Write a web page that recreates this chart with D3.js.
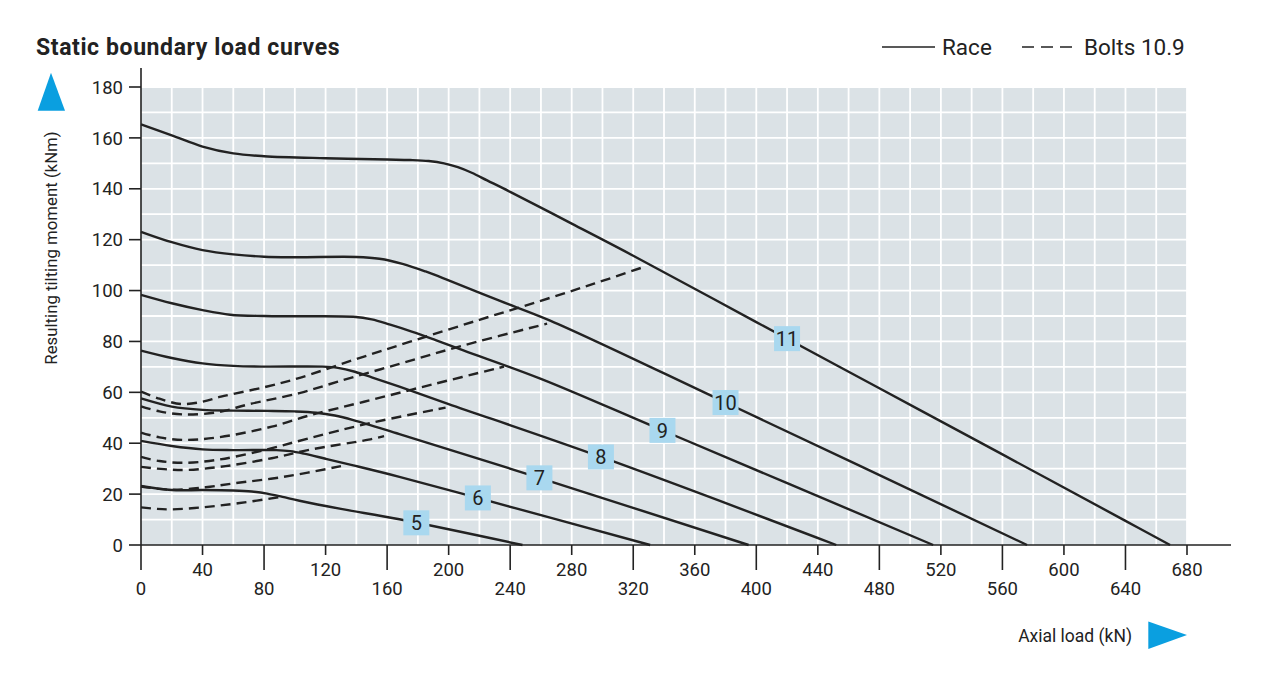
<!DOCTYPE html>
<html>
<head>
<meta charset="utf-8">
<script src="https://cdn.jsdelivr.net/npm/d3@7"></script>
<style>
  html, body { margin: 0; padding: 0; background: #ffffff; }
  svg { display: block; font-family: Roboto, "Noto Sans", sans-serif; }
</style>
</head>
<body>
<svg id="chart" width="1267" height="685"></svg>
<script>
// ---------- DATA ----------
const sizeLabels = ["5", "6", "7", "8", "9", "10", "11"];
const labelAtLoad = [179, 219, 259, 299, 339, 380, 420];

// Race curves: [axial load kN, tilting moment kNm]
const race5  = [[0,23.2],[20,21.6],[40,21.6],[60,21.4],[72,21.0],[82,20.2],[92,18.9],[103,17.4],[130,14.2],[168,10.1],[248,0]];
const race6  = [[0,40.9],[20,38.9],[40,37.6],[60,37.3],[88,37.3],[97,36.9],[106,35.9],[120,33.9],[138,31.3],[168,26.8],[219,18.5],[331,0]];
const race7  = [[0,57.6],[20,54.4],[40,53.1],[60,52.8],[82,52.7],[100,52.5],[114,52.0],[126,50.9],[138,49.1],[168,43.6],[260,26.2],[395,0]];
const race8  = [[0,76.4],[20,73.5],[40,71.4],[60,70.4],[80,70.1],[118,70.1],[128,69.6],[139,68.1],[150,65.9],[168,62.2],[200,55.4],[300,34.4],[452,0]];
const race9  = [[0,98.3],[20,95.0],[40,92.3],[58,90.5],[80,90.0],[100,89.9],[138,89.7],[150,88.7],[162,86.6],[176,83.9],[190,80.9],[210,76.4],[260,65.3],[340,44.8],[515,0]];
const race10 = [[0,123.1],[20,119.0],[40,115.9],[60,114.2],[80,113.3],[100,113.1],[140,113.2],[155,112.5],[170,110.5],[185,107.5],[200,104.0],[233,96.0],[266,88.2],[380,56.0],[576,0]];
const race11 = [[0,165.3],[20,161.0],[40,156.6],[60,153.9],[80,152.8],[120,152.0],[160,151.5],[175,151.3],[187,150.9],[197,150.0],[206,148.5],[215,146.3],[225,143.3],[240,138.8],[280,126.3],[320,113.7],[400,87.6],[480,61.6],[560,35.6],[640,9.5],[669,0]];

// Bolt curves (dashed)
const boltsA = [[0,60.3],[12,57.5],[26,55.4],[40,56.3],[52,58.3],[80,62.0],[102,65.5],[138,72.7],[175,79.9],[220,88.5],[259,95.8],[295,102.8],[328,109.5]];
const boltsB = [[0,54.5],[12,52.5],[28,51.3],[50,52.2],[70,55.3],[103,59.7],[128,64.2],[168,71.2],[210,78.5],[264,87.0]];
const boltsC = [[0,44.2],[12,42.3],[28,41.3],[50,42.3],[85,46.5],[110,51.0],[145,56.3],[190,63.2],[236,70.1]];
const boltsD = [[0,34.6],[12,33.0],[28,32.3],[50,33.5],[80,37.3],[109,41.9],[148,47.8],[198,54.0]];
const boltsE = [[0,30.7],[15,29.8],[30,29.5],[55,31.0],[85,34.1],[110,37.5],[148,41.4],[158,42.8]];
const boltsG = [[0,23.0],[20,21.7],[42,22.7],[60,24.2],[93,26.8],[130,31.0]];
const boltsF = [[0,14.8],[10,14.2],[20,14.0],[40,14.8],[63,16.4],[92,19.0]];

const xTicks = [0,40,80,120,160,200,240,280,320,360,400,440,480,520,560,600,640,680];
const yTicks = [0,20,40,60,80,100,120,140,160,180];

const raceCurves = [race5, race6, race7, race8, race9, race10, race11];
const boltCurves = [boltsA, boltsB, boltsC, boltsD, boltsE, boltsG, boltsF];

// ---------- LAYOUT ----------
const svg = d3.select("#chart");
const plotL = 141, plotR = 1187, plotT = 87, plotB = 545;
const x = d3.scaleLinear().domain([0, 680]).range([plotL, plotR]);
const y = d3.scaleLinear().domain([0, 180]).range([plotB, plotT]);

const ink = "#222222";

// plot background
svg.append("rect")
  .attr("x", x(0)).attr("y", y(180))
  .attr("width", x(680) - x(0)).attr("height", y(0) - y(180))
  .attr("fill", "#dbe2e6");

// grid
const gx = d3.range(20, 681, 20);
const gy = d3.range(10, 181, 10);
svg.append("g").selectAll("line").data(gx).join("line")
  .attr("x1", d => x(d)).attr("x2", d => x(d))
  .attr("y1", y(0)).attr("y2", y(180))
  .attr("stroke", "#ffffff").attr("stroke-width", 1.8);
svg.append("g").selectAll("line").data(gy).join("line")
  .attr("x1", x(0)).attr("x2", x(680))
  .attr("y1", d => y(d)).attr("y2", d => y(d))
  .attr("stroke", "#ffffff").attr("stroke-width", 1.8);

// curves
const line = d3.line().x(d => x(d[0])).y(d => y(d[1])).curve(d3.curveCatmullRom.alpha(0.5));

svg.append("g").selectAll("path").data(boltCurves).join("path")
  .attr("d", line).attr("fill", "none")
  .attr("stroke", ink).attr("stroke-width", 2.4)
  .attr("stroke-dasharray", "10,6");

svg.append("g").selectAll("path").data(raceCurves).join("path")
  .attr("d", line).attr("fill", "none")
  .attr("stroke", ink).attr("stroke-width", 2.4);

// labels on race curves
function valueAt(curve, load) {
  for (let i = 1; i < curve.length; i++) {
    if (load <= curve[i][0]) {
      const [x0, y0] = curve[i - 1], [x1, y1] = curve[i];
      return y0 + (y1 - y0) * (load - x0) / (x1 - x0);
    }
  }
  return curve[curve.length - 1][1];
}
const lab = svg.append("g").selectAll("g").data(sizeLabels).join("g")
  .attr("transform", (d, i) => `translate(${x(labelAtLoad[i])},${y(valueAt(raceCurves[i], labelAtLoad[i]))})`);
lab.append("rect").attr("x", -13).attr("y", -12.5).attr("width", 26).attr("height", 25)
  .attr("fill", "#a9d8ef");
lab.append("text").text(d => d)
  .attr("text-anchor", "middle").attr("dy", "0.36em")
  .attr("font-size", 20).attr("fill", ink);

// axes
svg.append("line").attr("x1", x(0)).attr("x2", x(0)).attr("y1", 68).attr("y2", y(0))
  .attr("stroke", ink).attr("stroke-width", 1.6);
svg.append("line").attr("x1", x(0)).attr("x2", 1231).attr("y1", y(0)).attr("y2", y(0))
  .attr("stroke", ink).attr("stroke-width", 1.6);

// y ticks
const yt = svg.append("g").selectAll("g").data(yTicks).join("g")
  .attr("transform", d => `translate(0,${y(d)})`);
yt.append("line").attr("x1", plotL - 12).attr("x2", plotL).attr("stroke", ink).attr("stroke-width", 1.6);
yt.append("text").text(d => d).attr("x", 123).attr("dy", "0.36em")
  .attr("text-anchor", "end").attr("font-size", 18.5).attr("fill", ink);

// x ticks (alternating)
const xt = svg.append("g").selectAll("g").data(xTicks).join("g")
  .attr("transform", d => `translate(${x(d)},0)`);
xt.append("line").attr("y1", plotB).attr("y2", (d, i) => i % 2 === 0 ? plotB + 25 : plotB + 10)
  .attr("stroke", ink).attr("stroke-width", 1.6);
xt.append("text").text(d => d).attr("text-anchor", "middle")
  .attr("y", (d, i) => i % 2 === 0 ? 595 : 576)
  .attr("font-size", 18.5).attr("fill", ink);

// axis titles
svg.append("text").text("Resulting tilting moment (kNm)")
  .attr("transform", "translate(57,248) rotate(-90)")
  .attr("text-anchor", "middle").attr("font-size", 16.8).attr("fill", ink);
svg.append("text").text("Axial load (kN)")
  .attr("x", 1132).attr("y", 642).attr("text-anchor", "end")
  .attr("font-size", 17.5).attr("fill", ink);

// arrows
svg.append("path").attr("d", "M51,72.7 L65,110.7 L37.7,110.7 Z").attr("fill", "#0a9fe0");
svg.append("path").attr("d", "M1187,635 L1148.3,649 L1148.3,621.5 Z").attr("fill", "#0a9fe0");

// title
svg.append("text").text("Static boundary load curves")
  .attr("x", 36).attr("y", 55).attr("font-size", 23).attr("letter-spacing", 0.6)
  .attr("font-weight", "bold").attr("fill", ink);

// legend
svg.append("line").attr("x1", 882).attr("x2", 935).attr("y1", 47).attr("y2", 47)
  .attr("stroke", ink).attr("stroke-width", 1.5);
svg.append("text").text("Race").attr("x", 942).attr("y", 55)
  .attr("font-size", 22.5).attr("fill", ink);
svg.append("line").attr("x1", 1022).attr("x2", 1072).attr("y1", 47).attr("y2", 47)
  .attr("stroke", ink).attr("stroke-width", 1.5).attr("stroke-dasharray", "12,7");
svg.append("text").text("Bolts 10.9").attr("x", 1084).attr("y", 55)
  .attr("font-size", 22.5).attr("fill", ink);
</script>
</body>
</html>
